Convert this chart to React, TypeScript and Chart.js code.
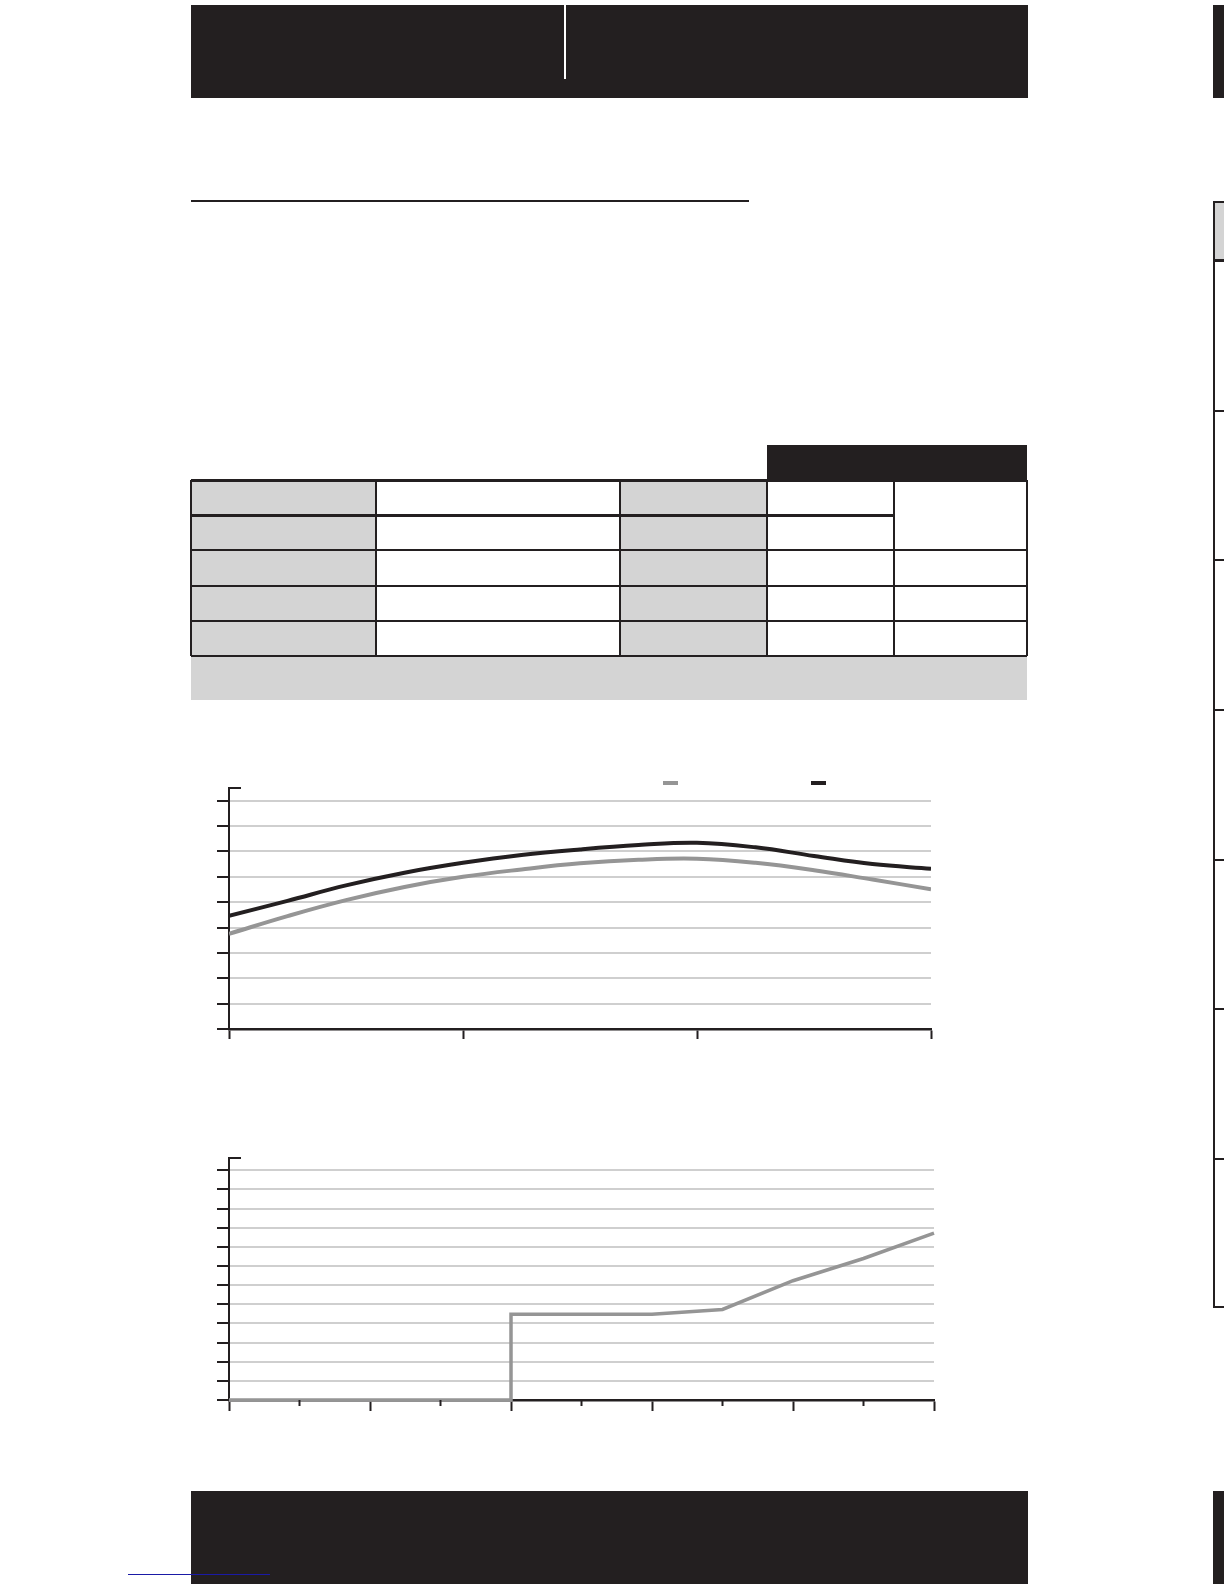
import { useEffect, useRef } from 'react';
import { Chart, registerables } from 'chart.js';

Chart.register(...registerables);

const INK = '#231f20';
const GRID = '#cfcfcf';
const GREY_LINE = '#959595';
const CELL_GREY = '#d4d4d4';

// Upper chart: two smooth curves over 3 intervals
const curveX = [0, 0.25, 0.5, 0.75, 1, 1.25, 1.5, 1.75, 2, 2.25, 2.5, 2.75, 3];
const greySeries = [3.75, 4.45, 5.08, 5.6, 6.0, 6.29, 6.53, 6.67, 6.71, 6.55, 6.26, 5.89, 5.51];
const blackSeries = [4.46, 5.05, 5.66, 6.16, 6.55, 6.86, 7.08, 7.25, 7.34, 7.16, 6.82, 6.5, 6.32];
const curveXTicks = [0, 1, 2, 3];
const curveYTicks = [0, 1, 2, 3, 4, 5, 6, 7, 8, 9];
const curveYMax = 9.5;

// Lower chart: step then rising line
const stepX = [0, 4, 4, 6, 7, 8, 9, 10];
const stepY = [0, 0, 4.48, 4.48, 4.73, 6.23, 7.39, 8.72];
const stepXMajorTicks = [0, 2, 4, 6, 8, 10];
const stepXMinorTicks = [1, 3, 5, 7, 9];
const stepYTicks = [0, 1, 2, 3, 4, 5, 6, 7, 8, 9, 10, 11, 12];
const stepYMax = 12.64;

// short cap at the top of the y axis, plus optional minor x ticks
const axisDecor = {
  id: 'axisDecor',
  afterDraw(chart: any, _args: any, opts: any) {
    const { ctx, chartArea, scales } = chart;
    ctx.save();
    ctx.strokeStyle = INK;
    ctx.lineWidth = 2;
    ctx.beginPath();
    ctx.moveTo(chartArea.left - 1, chartArea.top);
    ctx.lineTo(chartArea.left + 12, chartArea.top);
    ctx.stroke();
    (opts.minor || []).forEach((v: number) => {
      const x = scales.x.getPixelForValue(v);
      ctx.beginPath();
      ctx.moveTo(x, chartArea.bottom);
      ctx.lineTo(x, chartArea.bottom + 6);
      ctx.stroke();
    });
    ctx.restore();
  },
};

function yAxis(ticks: number[], max: number) {
  return {
    type: 'linear',
    min: 0,
    max,
    afterBuildTicks: (s: any) => {
      s.ticks = ticks.map((v) => ({ value: v }));
    },
    ticks: { display: false },
    grid: {
      color: (c: any) => (c.tick && c.tick.value === 0 ? 'rgba(0,0,0,0)' : GRID),
      lineWidth: 2,
      tickColor: INK,
      tickWidth: 2,
      tickLength: 12,
    },
    border: { color: INK, width: 2 },
  };
}

function xAxis(ticks: number[], max: number, tickLength: number) {
  return {
    type: 'linear',
    min: 0,
    max,
    afterBuildTicks: (s: any) => {
      s.ticks = ticks.map((v) => ({ value: v }));
    },
    ticks: { display: false },
    grid: {
      drawOnChartArea: false,
      tickColor: INK,
      tickWidth: 2,
      tickLength,
    },
    border: { color: INK, width: 2.5 },
  };
}

function CurveChart() {
  const ref = useRef<HTMLCanvasElement>(null);
  useEffect(() => {
    if (!ref.current) return;
    const chart = new Chart(ref.current, {
      type: 'line',
      data: {
        datasets: [
          {
            label: 'grey',
            data: curveX.map((x, i) => ({ x, y: greySeries[i] })),
            borderColor: GREY_LINE,
            borderWidth: 4,
            pointRadius: 0,
            tension: 0.4,
          },
          {
            label: 'black',
            data: curveX.map((x, i) => ({ x, y: blackSeries[i] })),
            borderColor: INK,
            borderWidth: 4,
            pointRadius: 0,
            tension: 0.4,
          },
        ],
      },
      options: {
        responsive: false,
        animation: false,
        layout: { padding: { left: 26, right: 20, top: 18, bottom: 11 } },
        scales: {
          x: xAxis(curveXTicks, 3, 10) as any,
          y: yAxis(curveYTicks, curveYMax) as any,
        },
        plugins: {
          legend: { display: false },
          tooltip: { enabled: false },
          axisDecor: {},
        } as any,
      },
      plugins: [axisDecor],
    });
    return () => chart.destroy();
  }, []);
  return <canvas ref={ref} width={760} height={280} />;
}

function StepChart() {
  const ref = useRef<HTMLCanvasElement>(null);
  useEffect(() => {
    if (!ref.current) return;
    const chart = new Chart(ref.current, {
      type: 'line',
      data: {
        datasets: [
          {
            label: 'grey',
            data: stepX.map((x, i) => ({ x, y: stepY[i] })),
            borderColor: GREY_LINE,
            borderWidth: 3.5,
            pointRadius: 0,
            tension: 0,
            clip: { left: 0, top: 0, right: 2, bottom: 3 },
          },
        ],
      },
      options: {
        responsive: false,
        animation: false,
        layout: { padding: { left: 26, right: 17, top: 18, bottom: 9 } },
        scales: {
          x: xAxis(stepXMajorTicks, 10, 11) as any,
          y: yAxis(stepYTicks, stepYMax) as any,
        },
        plugins: {
          legend: { display: false },
          tooltip: { enabled: false },
          axisDecor: { minor: stepXMinorTicks },
        } as any,
      },
      plugins: [axisDecor],
    });
    return () => chart.destroy();
  }, []);
  return <canvas ref={ref} width={760} height={280} />;
}

const box = (left: number, top: number, width: number, height: number, bg: string) => (
  <div
    style={{ position: 'absolute', left, top, width, height, background: bg }}
  />
);

// table geometry
const colEdges = [191, 376, 620, 767, 894, 1027];
const rowEdges = [480, 515, 550, 585.5, 621, 655.5];
const greyCols = [0, 2];
const sideRows = [260, 411, 560, 710, 860, 1009, 1159, 1307];

function SpecTable() {
  const parts: any[] = [];
  greyCols.forEach((c) =>
    parts.push(
      <div key={'g' + c} style={{ position: 'absolute', left: colEdges[c], top: rowEdges[0], width: colEdges[c + 1] - colEdges[c], height: rowEdges[5] - rowEdges[0], background: CELL_GREY }} />
    )
  );
  // bottom band
  parts.push(<div key="band" style={{ position: 'absolute', left: 191, top: 655.5, width: 836, height: 44, background: CELL_GREY }} />);
  // black header cell
  parts.push(<div key="hd" style={{ position: 'absolute', left: 767, top: 445, width: 260, height: 36, background: INK }} />);
  // horizontal rules
  rowEdges.forEach((y, i) => {
    const thick = i < 2;
    const right = i === 1 ? colEdges[4] : colEdges[5];
    parts.push(
      <div key={'h' + i} style={{ position: 'absolute', left: colEdges[0], top: y - (thick ? 1.5 : 1), width: right - colEdges[0], height: thick ? 3 : 2, background: INK }} />
    );
  });
  // vertical rules
  colEdges.forEach((x, i) =>
    parts.push(
      <div key={'v' + i} style={{ position: 'absolute', left: x - 1, top: rowEdges[0], width: 2, height: rowEdges[5] - rowEdges[0], background: INK }} />
    )
  );
  return <>{parts}</>;
}

function SideTable() {
  return (
    <>
      <div style={{ position: 'absolute', left: 1214, top: 202, width: 10, height: 58, background: CELL_GREY }} />
      <div style={{ position: 'absolute', left: 1212.5, top: 201, width: 2, height: 1107, background: INK }} />
      <div style={{ position: 'absolute', left: 1212.5, top: 201, width: 12, height: 1.5, background: INK }} />
      {sideRows.map((y, i) => (
        <div key={i} style={{ position: 'absolute', left: 1212.5, top: y - 1, width: 12, height: i === 0 ? 2.5 : 1.5, background: INK }} />
      ))}
    </>
  );
}

export default function App() {
  return (
    <div style={{ position: 'absolute', left: 0, top: 0, width: 1224, height: 1584, overflow: 'hidden', background: '#fff', fontFamily: 'Liberation Sans, sans-serif' }}>
      {/* header */}
      {box(191, 5, 837, 93, INK)}
      {box(564, 5, 1.5, 74, '#fff')}
      {box(1213, 5, 11, 93, INK)}
      {box(191, 200, 558, 1.5, INK)}

      <SideTable />
      <SpecTable />

      {/* upper chart */}
      <div style={{ position: 'absolute', left: 191, top: 770, width: 760, height: 280 }}>
        <CurveChart />
      </div>
      {box(663, 781, 15, 4, GREY_LINE)}
      {box(811, 781, 15, 4, INK)}

      {/* lower chart */}
      <div style={{ position: 'absolute', left: 191, top: 1140, width: 760, height: 280 }}>
        <StepChart />
      </div>

      {/* footer */}
      {box(191, 1491, 837, 93, INK)}
      {box(1213, 1491, 11, 93, INK)}
      {box(128, 1573.5, 142, 1.5, '#1a1aa6')}
    </div>
  );
}
